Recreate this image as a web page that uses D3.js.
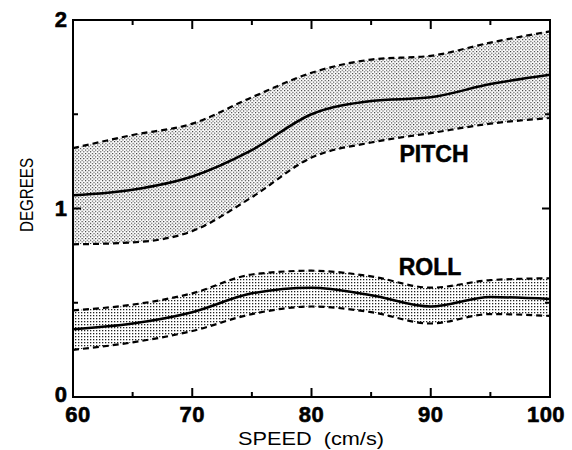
<!DOCTYPE html>
<html>
<head>
<meta charset="utf-8">
<script src="https://cdn.jsdelivr.net/npm/d3@7"></script>
<style>
  html, body { margin: 0; padding: 0; background: #fff; }
  svg { display: block; }
</style>
</head>
<body>
<svg id="chart" width="572" height="450"></svg>
<script>
const speed = [60, 65, 70, 75, 80, 85, 90, 95, 100];
const pitchMean  = [1.07, 1.10, 1.17, 1.31, 1.50, 1.57, 1.59, 1.66, 1.71];
const pitchUpper = [1.32, 1.39, 1.45, 1.59, 1.72, 1.79, 1.81, 1.88, 1.94];
const pitchLower = [0.81, 0.82, 0.88, 1.06, 1.27, 1.35, 1.40, 1.45, 1.48];
const rollMean   = [0.36, 0.39, 0.45, 0.55, 0.58, 0.54, 0.48, 0.53, 0.52];
const rollUpper  = [0.46, 0.49, 0.55, 0.65, 0.67, 0.64, 0.58, 0.62, 0.63];
const rollLower  = [0.25, 0.29, 0.35, 0.44, 0.48, 0.45, 0.39, 0.44, 0.43];
const xMajorTicks = [60, 70, 80, 90, 100];
const xMinorTicks = [65, 75, 85, 95];
const yMajorTicks = [0, 1, 2];
const yMinorTicks = [0.5, 1.5];
const seriesLabels = ["PITCH", "ROLL"];
const xTitle = "SPEED  (cm/s)";
const yTitle = "DEGREES";

const svg = d3.select("#chart");
const x = d3.scaleLinear().domain([60, 100]).range([73, 550]);
const y = d3.scaleLinear().domain([0, 2]).range([397, 20]);

const defs = svg.append("defs");
const p1 = defs.append("pattern").attr("id", "stipPitch").attr("patternUnits", "userSpaceOnUse")
  .attr("width", 3.4).attr("height", 3.4);
p1.append("rect").attr("x", 0).attr("y", 0).attr("width", 1.1).attr("height", 1.1).attr("fill", "#222");
p1.append("rect").attr("x", 1.7).attr("y", 1.7).attr("width", 1.1).attr("height", 1.1).attr("fill", "#222");
const p2 = defs.append("pattern").attr("id", "stipRoll").attr("patternUnits", "userSpaceOnUse")
  .attr("width", 3).attr("height", 3);
p2.append("rect").attr("x", 0).attr("y", 0).attr("width", 1.3).attr("height", 1.3).attr("fill", "#222");

function band(lower, upper, mean, pat) {
  const data = speed.map((s, i) => ({s, lo: lower[i], hi: upper[i], m: mean[i]}));
  const curve = d3.curveMonotoneX;
  svg.append("path").datum(data)
    .attr("d", d3.area().x(d => x(d.s)).y0(d => y(d.lo)).y1(d => y(d.hi)).curve(curve))
    .attr("fill", `url(#${pat})`).attr("stroke", "none");
  ["lo", "hi"].forEach(k => {
    svg.append("path").datum(data)
      .attr("d", d3.line().x(d => x(d.s)).y(d => y(d[k])).curve(curve))
      .attr("fill", "none").attr("stroke", "#000").attr("stroke-width", 2.2)
      .attr("stroke-dasharray", "6,4");
  });
  svg.append("path").datum(data)
    .attr("d", d3.line().x(d => x(d.s)).y(d => y(d.m)).curve(curve))
    .attr("fill", "none").attr("stroke", "#000").attr("stroke-width", 2.5);
}
band(pitchLower, pitchUpper, pitchMean, "stipPitch");
band(rollLower, rollUpper, rollMean, "stipRoll");

// frame
svg.append("rect").attr("x", x(60)).attr("y", y(2)).attr("width", x(100) - x(60)).attr("height", y(0) - y(2))
  .attr("fill", "none").attr("stroke", "#000").attr("stroke-width", 2);

// ticks
const tk = svg.append("g").attr("stroke", "#000").attr("stroke-width", 2);
xMajorTicks.concat(xMinorTicks).forEach(v => {
  const len = xMajorTicks.includes(v) ? 9 : 5;
  tk.append("line").attr("x1", x(v)).attr("x2", x(v)).attr("y1", y(0)).attr("y2", y(0) - len);
  tk.append("line").attr("x1", x(v)).attr("x2", x(v)).attr("y1", y(2)).attr("y2", y(2) + len);
});
yMajorTicks.concat(yMinorTicks).forEach(v => {
  const len = yMajorTicks.includes(v) ? 8 : 5;
  tk.append("line").attr("x1", x(60)).attr("x2", x(60) + len).attr("y1", y(v)).attr("y2", y(v));
  tk.append("line").attr("x1", x(100)).attr("x2", x(100) - len).attr("y1", y(v)).attr("y2", y(v));
});

const font = "'Liberation Sans', Arial, Helvetica, sans-serif";
// tick labels
svg.append("g").selectAll("text").data(xMajorTicks).join("text")
  .attr("x", d => x(d) + (d === 60 ? 5 : d === 100 ? -4 : 0))
  .attr("y", 422)
  .attr("text-anchor", "middle")
  .attr("font-family", font).attr("font-weight", "bold").attr("font-size", 22)
  .attr("letter-spacing", 0.5)
  .attr("stroke", "#000").attr("stroke-width", 0.6)
  .text(d => d);
svg.append("g").selectAll("text").data(yMajorTicks).join("text")
  .attr("x", 67)
  .attr("y", d => y(d) + 7 + (d === 0 ? -2 : 0))
  .attr("text-anchor", "end")
  .attr("font-family", font).attr("font-weight", "bold").attr("font-size", 22)
  .attr("stroke", "#000").attr("stroke-width", 0.6)
  .text(d => d);

// axis titles
svg.append("text").attr("x", 311).attr("y", 445).attr("text-anchor", "middle")
  .attr("font-family", font).attr("font-size", 18)
  .attr("textLength", 146).attr("lengthAdjust", "spacingAndGlyphs")
  .style("white-space", "pre")
  .text(xTitle);
svg.append("text").attr("transform", "translate(33,195) rotate(-90)").attr("text-anchor", "middle")
  .attr("font-family", font).attr("font-size", 19)
  .attr("textLength", 74).attr("lengthAdjust", "spacingAndGlyphs")
  .text(yTitle);

// series labels
svg.append("text").attr("x", 434).attr("y", 162).attr("text-anchor", "middle")
  .attr("font-family", font).attr("font-weight", "bold").attr("font-size", 23)
  .attr("stroke", "#000").attr("stroke-width", 0.5)
  .text(seriesLabels[0]);
svg.append("text").attr("x", 430).attr("y", 275).attr("text-anchor", "middle")
  .attr("font-family", font).attr("font-weight", "bold").attr("font-size", 23)
  .attr("stroke", "#000").attr("stroke-width", 0.5)
  .text(seriesLabels[1]);
</script>
</body>
</html>
